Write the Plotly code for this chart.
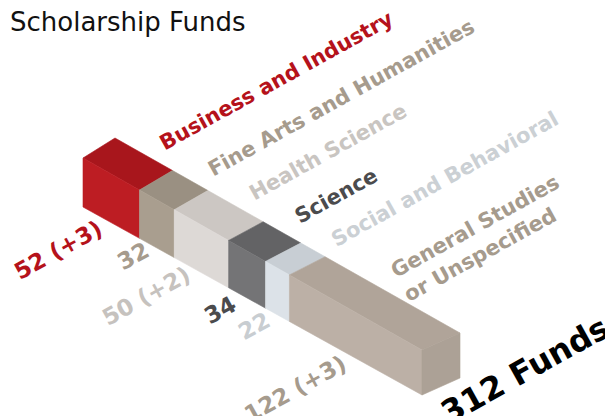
import plotly.graph_objects as go

# ---- data ----
categories = ["Business and Industry", "Fine Arts and Humanities", "Health Science",
              "Science", "Social and Behavioral", "General Studies<br>or Unspecified"]
values = [52, 32, 50, 34, 22, 122]
value_labels = ["52 (+3)", "32", "50 (+2)", "34", "22", "122 (+3)"]
total_label = "312 Funds"
title_text = "Scholarship Funds"

# ---- styles ----
front_colors = ["#BD1D23", "#A99E8F", "#DDD9D6", "#747476", "#DCE2E8", "#BCB0A6"]
top_colors = ["#A8161C", "#9A9082", "#CCC7C3", "#636365", "#C8CED4", "#B0A499"]
end_color = "#ACA196"
label_colors = ["#B5121B", "#A69B8D", "#C9C5C1", "#4B4B4D", "#CBD0D4", "#A69B8D"]
value_colors = ["#B5121B", "#A69B8D", "#C6C2BE", "#4B4B4D", "#C8CDD1", "#A69B8D"]

W, H = 613, 416
OFF = 8  # page body margin compensation
X0, X1 = 83.0, 422.0          # pixel extent of the bar front
TOP0, TOP1 = 158.0, 350.0      # front-top edge y at the ends
BOT0, BOT1 = 207.0, 395.0      # front-bottom edge y at the ends
D0, D1 = (32.0, -20.0), (38.0, -17.0)   # depth vectors at the ends
ANGLE = -29

cat_label_pos = [(276, 81), (341, 98), (328, 152), (336, 196), (445, 179), (481, 238)]
val_label_pos = [(58, 250), (133, 256), (146, 296), (220, 310), (254, 326), (295, 389)]
total_pos = (525, 370)

total = sum(values)


def xpos(v):
    return X0 + (X1 - X0) * v / total


def frac(x):
    return (x - X0) / (X1 - X0)


def ytop(x):
    return TOP0 + (TOP1 - TOP0) * frac(x)


def ybot(x):
    return BOT0 + (BOT1 - BOT0) * frac(x)


def depth(x):
    f = frac(x)
    return (D0[0] + (D1[0] - D0[0]) * f, D0[1] + (D1[1] - D0[1]) * f)


fig = go.Figure()


def face(xs, ys, color):
    fig.add_trace(go.Scatter(x=xs + [xs[0]], y=ys + [ys[0]], mode="lines",
                             fill="toself", fillcolor=color,
                             line=dict(color=color, width=0.6),
                             hoverinfo="skip", showlegend=False))


cum = 0
for i, v in enumerate(values):
    xa, xb = xpos(cum), xpos(cum + v)
    da, db = depth(xa), depth(xb)
    # top face
    face([xa, xb, xb + db[0], xa + da[0]],
         [ytop(xa), ytop(xb), ytop(xb) + db[1], ytop(xa) + da[1]], top_colors[i])
    # front face
    face([xa, xb, xb, xa], [ytop(xa), ytop(xb), ybot(xb), ybot(xa)], front_colors[i])
    cum += v

# end cap
xe = xpos(total)
de = depth(xe)
face([xe, xe + de[0], xe + de[0], xe],
     [ytop(xe), ytop(xe) + de[1], ybot(xe) + de[1], ybot(xe)], end_color)

FONT = "DejaVu Sans"
ann = []
for i, c in enumerate(categories):
    ann.append(dict(x=cat_label_pos[i][0], y=cat_label_pos[i][1], text=c, showarrow=False,
                    textangle=ANGLE, xanchor="center", yanchor="middle", align="left",
                    font=dict(family=FONT, size=21, color=label_colors[i], weight="bold")))
for i, t in enumerate(value_labels):
    ann.append(dict(x=val_label_pos[i][0], y=val_label_pos[i][1], text=t, showarrow=False,
                    textangle=ANGLE, xanchor="center", yanchor="middle",
                    font=dict(family=FONT, size=23, color=value_colors[i], weight="bold")))
ann.append(dict(x=total_pos[0], y=total_pos[1], text=total_label, showarrow=False,
                textangle=ANGLE, xanchor="center", yanchor="middle",
                font=dict(family=FONT, size=32, color="#000000", weight="bold")))
ann.append(dict(x=8, y=22, text=title_text, showarrow=False, xanchor="left", yanchor="middle",
                font=dict(family=FONT, size=26, color="#111111")))

fig.update_layout(width=W, height=H, margin=dict(l=0, r=0, t=0, b=0),
                  paper_bgcolor="white", plot_bgcolor="white", annotations=ann,
                  xaxis=dict(range=[OFF, W + OFF], visible=False, fixedrange=True),
                  yaxis=dict(range=[H + OFF, OFF], visible=False, fixedrange=True))

fig.write_html("out.html")
